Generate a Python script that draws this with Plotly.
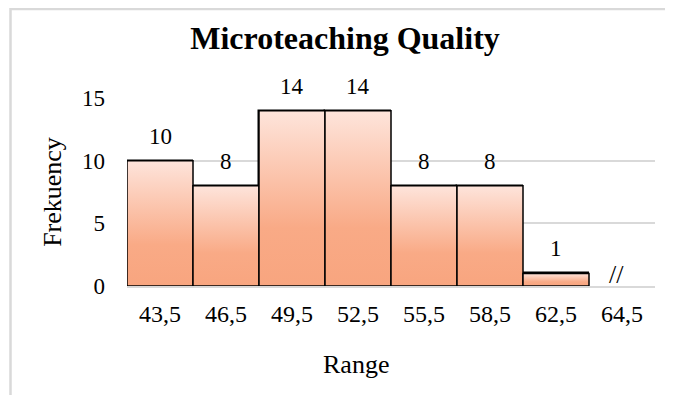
import plotly.graph_objects as go

# ---- data ----
categories = ["43,5", "46,5", "49,5", "52,5", "55,5", "58,5", "62,5", "64,5"]
frequencies = [10, 8, 14, 14, 8, 8, 1, 0]
value_labels = ["10", "8", "14", "14", "8", "8", "1", "//"]
y_ticks = [0, 5, 10, 15]

FONT = "Liberation Serif, Times New Roman, serif"
positions = list(range(len(categories)))

# the page body adds an 8px offset; work in screen pixels and convert
OFF = 8
SW, SH = 673, 395
W, H = SW - OFF, SH - OFF
PLOT_L, PLOT_R, PLOT_T, PLOT_B = 127, 655, 98, 286  # screen px
ML, MR = PLOT_L - OFF, SW - PLOT_R
MT, MB = PLOT_T - OFF, SH - PLOT_B
PW, PH = PLOT_R - PLOT_L, PLOT_B - PLOT_T


def px_to_paper_x(sx):
    return (sx - PLOT_L) / PW


def px_to_paper_y(sy):
    return (PLOT_B - sy) / PH


fig = go.Figure()

bar_x = [p for p, v in zip(positions, frequencies) if v > 0]
bar_y = [v for v in frequencies if v > 0]

fig.add_trace(go.Bar(
    x=bar_x, y=bar_y, width=1,
    marker=dict(color="rgba(0,0,0,0)", line=dict(color="black", width=1.5)),
    hoverinfo="skip", showlegend=False,
))

# gradient fill of each bar (built from the data values)
for p, v in zip(bar_x, bar_y):
    fig.add_trace(go.Scatter(
        x=[p - 0.5, p - 0.5, p + 0.5, p + 0.5, p - 0.5],
        y=[0, v, v, 0, 0],
        mode="lines", fill="toself",
        fillgradient=dict(
            type="vertical", start=0, stop=v,
            colorscale=[[0, "#F8A57F"], [0.33, "#F9AA86"], [1, "#FEE4DB"]],
        ),
        line=dict(color="black", width=1.5),
        showlegend=False, hoverinfo="skip",
    ))

# data labels
for p, v, t in zip(positions, frequencies, value_labels):
    fig.add_annotation(
        x=p, y=v, text=t, showarrow=False,
        yanchor="bottom", xanchor="center",
        xshift=-6 if v == 0 else 0,
        yshift=-5 if v == 0 else 10,
        font=dict(family=FONT, size=26 if v == 0 else 23, color="black"),
    )

# x axis title (offset like the original)
fig.add_annotation(
    xref="paper", yref="paper",
    x=px_to_paper_x(356), y=px_to_paper_y(364),
    text="Range", showarrow=False,
    xanchor="center", yanchor="middle",
    font=dict(family=FONT, size=26, color="black"),
)

# chart border
fig.add_shape(
    type="rect", xref="paper", yref="paper",
    x0=px_to_paper_x(10.5), x1=px_to_paper_x(700),
    y0=px_to_paper_y(420), y1=px_to_paper_y(9),
    line=dict(color="#D9D9D9", width=2.5),
    fillcolor="rgba(0,0,0,0)", layer="below",
)

fig.update_layout(
    width=W, height=H,
    margin=dict(l=ML, r=MR, t=MT, b=MB),
    paper_bgcolor="white", plot_bgcolor="white",
    showlegend=False,
    bargap=0,
    title=dict(
        text="<b>Microteaching Quality</b>",
        x=px_to_paper_x(345), xref="paper", xanchor="center",
        y=1 - (38 - OFF) / H, yref="container", yanchor="middle",
        font=dict(family=FONT, size=32, color="black"),
    ),
    font=dict(family=FONT, color="black"),
)

fig.update_xaxes(
    range=[-0.5, len(categories) - 0.5],
    tickmode="array", tickvals=positions, ticktext=categories,
    showgrid=False, zeroline=False,
    showline=True, linecolor="#D9D9D9", linewidth=2,
    ticks="", ticklabelstandoff=5,
    tickfont=dict(family=FONT, size=24, color="black"),
    layer="above traces",
)

fig.update_yaxes(
    range=[0, 15.02],
    tickmode="array", tickvals=y_ticks,
    showgrid=True, gridcolor="#D9D9D9", gridwidth=1.5,
    zeroline=False, showline=False, ticks="",
    ticklabelstandoff=21,
    tickfont=dict(family=FONT, size=23, color="black"),
    title=dict(text="Frekuency", standoff=12,
               font=dict(family=FONT, size=26, color="black")),
)

fig.write_html("out.html")
